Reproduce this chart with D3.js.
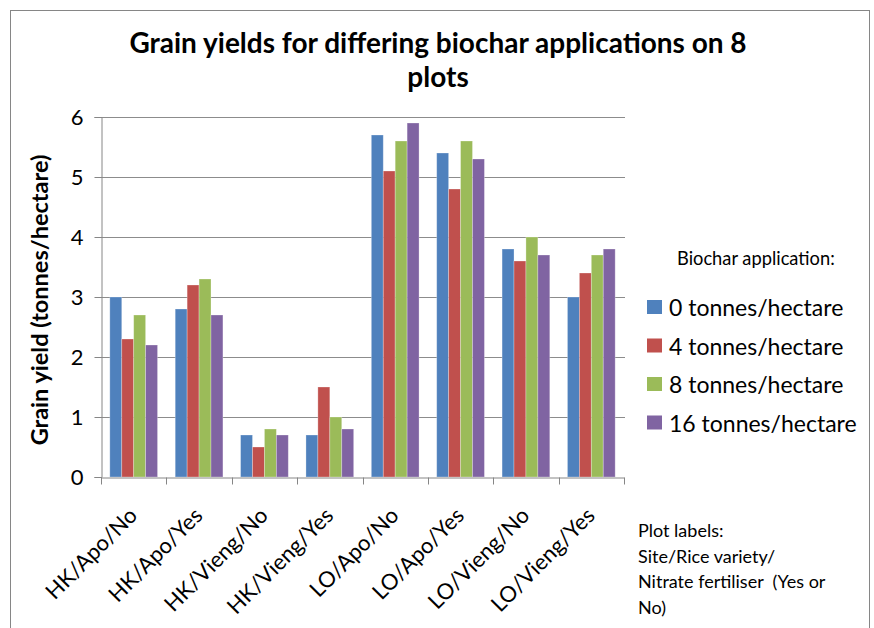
<!DOCTYPE html>
<html>
<head>
<meta charset="utf-8">
<script src="https://cdn.jsdelivr.net/npm/d3@7"></script>
<style>
  html, body { margin: 0; padding: 0; background: #fff; }
  text { font-family: Lato, "Open Sans", sans-serif; fill: #000; }
</style>
</head>
<body>
<svg id="chart" width="874" height="628"></svg>
<script>
// ---- data ----
const categories = ["HK/Apo/No", "HK/Apo/Yes", "HK/Vieng/No", "HK/Vieng/Yes",
                    "LO/Apo/No", "LO/Apo/Yes", "LO/Vieng/No", "LO/Vieng/Yes"];
const seriesNames = ["0 tonnes/hectare", "4 tonnes/hectare", "8 tonnes/hectare", "16 tonnes/hectare"];
const yield0  = [3.0, 2.8, 0.7, 0.7, 5.7, 5.4, 3.8, 3.0];
const yield4  = [2.3, 3.2, 0.5, 1.5, 5.1, 4.8, 3.6, 3.4];
const yield8  = [2.7, 3.3, 0.8, 1.0, 5.6, 5.6, 4.0, 3.7];
const yield16 = [2.2, 2.7, 0.7, 0.8, 5.9, 5.3, 3.7, 3.8];
const yTicks = [0, 1, 2, 3, 4, 5, 6];
const titleLines = ["Grain yields for differing biochar applications on 8", "plots"];
const yAxisTitle = "Grain yield (tonnes/hectare)";
const legendTitle = "Biochar application:";
const noteLines = ["Plot labels:", "Site/Rice variety/", "Nitrate fertiliser  (Yes or", "No)"];
const colors = ["#4F81BD", "#C0504D", "#9BBB59", "#8064A2"];

const allSeries = [yield0, yield4, yield8, yield16];

const svg = d3.select("#chart");

// outer chart border
svg.append("rect")
  .attr("x", 10.5).attr("y", 10.5)
  .attr("width", 859).attr("height", 640)
  .attr("fill", "none").attr("stroke", "#868686").attr("stroke-width", 1);

const plot = { left: 101, right: 624, top: 117, bottom: 477 };

const x = d3.scaleBand().domain(categories).range([plot.left, plot.right]).paddingInner(0).paddingOuter(0);
const groupPad = 0.27;
const xInner = d3.scaleBand().domain(d3.range(4))
  .range([x.bandwidth() * groupPad / 2, x.bandwidth() * (1 - groupPad / 2)]).padding(0);
const y = d3.scaleLinear().domain([0, 6]).range([plot.bottom, plot.top]);

// gridlines
svg.append("g").selectAll("line").data(yTicks.filter(d => d > 0)).join("line")
  .attr("x1", plot.left).attr("x2", plot.right + 1)
  .attr("y1", d => Math.round(y(d)) + 0.5).attr("y2", d => Math.round(y(d)) + 0.5)
  .attr("stroke", "#8c8c8c").attr("stroke-width", 1);

// bars
const groups = svg.append("g").selectAll("g").data(categories).join("g")
  .attr("transform", d => `translate(${x(d)},0)`);
groups.selectAll("rect")
  .data((c, i) => allSeries.map((s, k) => ({ k, v: s[i] })))
  .join("rect")
  .attr("x", d => xInner(d.k))
  .attr("width", xInner.bandwidth())
  .attr("y", d => y(d.v))
  .attr("height", d => y(0) - y(d.v))
  .attr("fill", d => colors[d.k])
  .attr("stroke", "rgba(255,255,255,0.35)")
  .attr("stroke-width", 0.8);

// y axis
const yAxis = d3.axisLeft(y).tickValues(yTicks).tickSize(7).tickPadding(11).tickFormat(d3.format("d"));
const gy = svg.append("g").attr("transform", `translate(${plot.left + 0.5},0)`).call(yAxis);
gy.select(".domain").attr("stroke", "#868686");
gy.selectAll(".tick line").attr("stroke", "#868686");
gy.selectAll(".tick text").attr("font-size", 22).attr("font-family", "Lato, sans-serif").attr("fill", "#000");

// x axis
const xAxis = d3.axisBottom(x).tickSize(0).tickFormat("");
const gx = svg.append("g").attr("transform", `translate(0,${plot.bottom + 0.5})`).call(xAxis);
gx.select(".domain").attr("stroke", "#868686");
gx.selectAll(".tick").remove();
// category boundary ticks
const bounds = categories.map(c => x(c)).concat([x.range()[1]]);
gx.selectAll("line.bound").data(bounds).join("line")
  .attr("class", "bound")
  .attr("x1", d => Math.round(d) + 0.5).attr("x2", d => Math.round(d) + 0.5)
  .attr("y1", 0).attr("y2", 7)
  .attr("stroke", "#868686");

// rotated category labels
svg.append("g").selectAll("text").data(categories).join("text")
  .attr("transform", d => `translate(${x(d) + x.bandwidth() / 2 + 5},${plot.bottom + 40}) rotate(-45)`)
  .attr("text-anchor", "end")
  .attr("font-size", 22)
  .text(d => d);

// y axis title
svg.append("text")
  .attr("transform", `translate(48,${(plot.top + plot.bottom) / 2 + 3}) rotate(-90)`)
  .attr("text-anchor", "middle")
  .attr("font-size", 23.5)
  .attr("font-weight", "bold")
  .text(yAxisTitle);

// title
svg.append("g").selectAll("text").data(titleLines).join("text")
  .attr("x", 438).attr("y", (d, i) => 53 + i * 34)
  .attr("text-anchor", "middle")
  .attr("font-size", 28)
  .attr("font-weight", "bold")
  .text(d => d);

// legend
svg.append("text").attr("x", 677).attr("y", 265).attr("font-size", 18.3).text(legendTitle);
const leg = svg.append("g").selectAll("g").data(seriesNames).join("g")
  .attr("transform", (d, i) => `translate(647,${300 + i * 38.5})`);
leg.append("rect").attr("width", 15).attr("height", 14).attr("fill", (d, i) => colors[i]);
leg.append("text").attr("x", 22).attr("y", 16).attr("font-size", 23).text(d => d);

// plot label note
svg.append("g").selectAll("text").data(noteLines).join("text")
  .attr("x", 638).attr("y", (d, i) => 537 + i * 25.5)
  .attr("font-size", 18)
  .attr("xml:space", "preserve")
  .style("white-space", "pre")
  .text(d => d);
</script>
</body>
</html>
